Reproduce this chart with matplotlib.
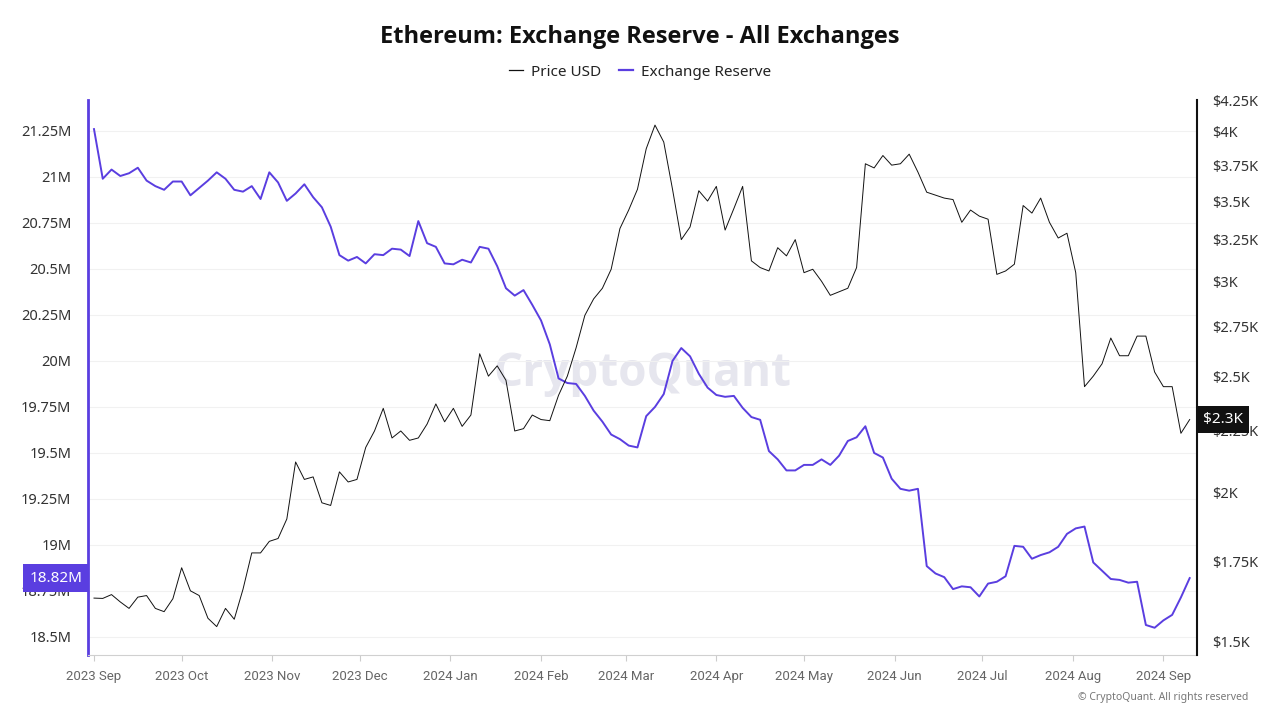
import pandas as pd
import matplotlib.pyplot as plt
import matplotlib.dates as mdates
import matplotlib.transforms as mtransforms
from matplotlib.lines import Line2D

plt.rcParams['font.family'] = ['Noto Sans', 'DejaVu Sans']

# Exchange reserve (millions ETH), sampled every 3 days from 2023-09-01
reserve_m = [
    21.26, 20.99, 21.04, 21.005, 21.02, 21.05, 20.98, 20.95, 20.93, 20.975,
    20.975, 20.90, 20.94, 20.98, 21.025, 20.99, 20.93, 20.92, 20.95, 20.88,
    21.025, 20.97, 20.87, 20.91, 20.96, 20.89, 20.835, 20.73, 20.575, 20.545,
    20.565, 20.53, 20.58, 20.575, 20.61, 20.605, 20.57, 20.76, 20.64, 20.62,
    20.53, 20.525, 20.55, 20.535, 20.62, 20.61, 20.515, 20.395, 20.355, 20.385,
    20.305, 20.22, 20.09, 19.905, 19.88, 19.875, 19.81, 19.73, 19.67, 19.60,
    19.575, 19.54, 19.53, 19.70, 19.75, 19.82, 20.00, 20.07, 20.025, 19.93,
    19.855, 19.815, 19.805, 19.81, 19.745, 19.695, 19.68, 19.51, 19.465, 19.405,
    19.405, 19.435, 19.435, 19.465, 19.435, 19.485, 19.565, 19.585, 19.645, 19.50,
    19.475, 19.36, 19.305, 19.295, 19.305, 18.885, 18.845, 18.825, 18.76, 18.775,
    18.77, 18.72, 18.79, 18.80, 18.83, 18.995, 18.99, 18.925, 18.945, 18.96,
    18.99, 19.06, 19.09, 19.10, 18.905, 18.86, 18.815, 18.81, 18.795, 18.80,
    18.565, 18.55, 18.59, 18.62, 18.715, 18.82,
]

# ETH price (thousand USD), same dates
price_k = [
    1.632, 1.631, 1.643, 1.62, 1.60, 1.635, 1.64, 1.60, 1.59, 1.63,
    1.73, 1.655, 1.64, 1.57, 1.545, 1.60, 1.567, 1.66, 1.78, 1.78,
    1.82, 1.83, 1.90, 2.12, 2.05, 2.06, 1.96, 1.95, 2.08, 2.04,
    2.05, 2.18, 2.25, 2.35, 2.22, 2.25, 2.21, 2.22, 2.28, 2.37,
    2.29, 2.35, 2.27, 2.32, 2.61, 2.50, 2.55, 2.48, 2.25, 2.26,
    2.32, 2.30, 2.295, 2.41, 2.50, 2.64, 2.81, 2.90, 2.96, 3.07,
    3.32, 3.44, 3.58, 3.87, 4.05, 3.92, 3.58, 3.25, 3.33, 3.57,
    3.50, 3.60, 3.31, 3.45, 3.60, 3.12, 3.08, 3.06, 3.20, 3.15,
    3.25, 3.05, 3.07, 3.00, 2.92, 2.94, 2.96, 3.08, 3.76, 3.73,
    3.82, 3.75, 3.76, 3.83, 3.70, 3.56, 3.54, 3.52, 3.51, 3.36,
    3.44, 3.40, 3.38, 3.04, 3.06, 3.10, 3.47, 3.42, 3.52, 3.36,
    3.26, 3.29, 3.05, 2.45, 2.50, 2.56, 2.69, 2.60, 2.60, 2.70,
    2.70, 2.52, 2.45, 2.45, 2.24, 2.30,
]

dates = pd.date_range('2023-09-01', periods=len(reserve_m), freq='3D')

reserve_ticks = [18.5, 18.75, 19.0, 19.25, 19.5, 19.75, 20.0, 20.25, 20.5, 20.75, 21.0, 21.25]
price_ticks = [1.5, 1.75, 2.0, 2.25, 2.5, 2.75, 3.0, 3.25, 3.5, 3.75, 4.0, 4.25]
month_ticks = pd.date_range('2023-09-01', '2024-09-01', freq='MS')

PURPLE = '#5a3ee0'
BOLD_FONT = ['Open Sans', 'Roboto', 'DejaVu Sans']


def short_num(v):
    return f"{v:.2f}".rstrip('0').rstrip('.')


fig = plt.figure(figsize=(12.8, 7.2), dpi=100)
ax = fig.add_axes([0.06875, 0.0903, 0.8664, 0.7708])
ax2 = ax.twinx()

# watermark behind the lines
ax.text(0.5, 0.508, 'CryptoQuant', transform=ax.transAxes, fontsize=33,
        family=BOLD_FONT, fontweight='bold', color='#e6e6ee',
        ha='center', va='center', zorder=0)

ax.plot(dates, reserve_m, color=PURPLE, lw=1.4, zorder=3)
ax2.plot(dates, price_k, color='#111111', lw=0.7)

start = pd.Timestamp('2023-09-01')
ax.set_xlim(mdates.date2num(start - pd.Timedelta(days=2.05)),
            mdates.date2num(start + pd.Timedelta(days=377.5)))

ax.set_ylim(18.402, 21.418)
ax.set_yticks(reserve_ticks)
ax.set_yticklabels([short_num(v) + 'M' for v in reserve_ticks])

ax2.set_yscale('log')
ax2.set_ylim(1.463, 4.25)
ax2.set_yticks(price_ticks)
ax2.set_yticklabels(['$' + short_num(v) + 'K' for v in price_ticks])
ax2.minorticks_off()

ax.grid(axis='y', color='#f1f1f1', lw=0.8)
ax.set_axisbelow(True)

ax.tick_params(axis='y', length=0, pad=12, labelsize=10.5, labelcolor='#333333')
ax2.tick_params(axis='y', length=0, pad=11, labelsize=10.5, labelcolor='#333333')
ax.tick_params(axis='x', length=4, color='#cccccc', labelbottom=False)

# month labels on a common baseline; Roboto keeps "J" on the line
ax.set_xticks(month_ticks)
label_tf = ax.get_xaxis_transform() + mtransforms.ScaledTranslation(
    0, -0.25, fig.dpi_scale_trans)
for d in month_ticks:
    ax.text(mdates.date2num(d), 0, f"{d.year} {d:%b}", transform=label_tf,
            ha='center', va='baseline', fontsize=9.5, color='#666666',
            family=['Roboto', 'Noto Sans'], clip_on=False)

for side in ['top', 'right']:
    ax.spines[side].set_visible(False)
ax.spines['left'].set_color(PURPLE)
ax.spines['left'].set_linewidth(2)
ax.spines['bottom'].set_color('#d0d0d0')
for side in ['top', 'left', 'bottom']:
    ax2.spines[side].set_visible(False)
ax2.spines['right'].set_color('#111111')
ax2.spines['right'].set_linewidth(1.5)

# last value tags on both axes
ax.annotate(f"{reserve_m[-1]:.2f}M", xy=(0, reserve_m[-1]),
            xycoords=('axes fraction', 'data'), xytext=(-4, 0),
            textcoords='offset points', ha='right', va='center',
            fontsize=11, color='white', zorder=5, annotation_clip=False,
            bbox=dict(boxstyle='square,pad=0.4', fc=PURPLE, ec='none'))
ax2.annotate(f"${price_k[-1]:.1f}K", xy=(1, price_k[-1]),
             xycoords=('axes fraction', 'data'), xytext=(4, 0),
             textcoords='offset points', ha='left', va='center',
             fontsize=11, color='white', zorder=5, annotation_clip=False,
             bbox=dict(boxstyle='square,pad=0.4', fc='#111111', ec='none'))

fig.text(0.5, 0.9486, 'Ethereum: Exchange Reserve - All Exchanges',
         ha='center', va='center', fontsize=17, family=BOLD_FONT,
         fontweight='bold', color='#111111')

handles = [Line2D([], [], color='#111111', lw=0.9),
           Line2D([], [], color=PURPLE, lw=1.6)]
fig.legend(handles, ['Price USD', 'Exchange Reserve'], loc='center',
           bbox_to_anchor=(0.5, 0.9), ncol=2, frameon=False, fontsize=11,
           handlelength=0.9, handletextpad=0.5, columnspacing=1.2,
           labelcolor='#222222')

fig.text(0.975, 0.0306, '\u00a9 CryptoQuant. All rights reserved', ha='right',
         va='center', fontsize=7.5, color='#777777')

fig.savefig('out.png', dpi=100)
